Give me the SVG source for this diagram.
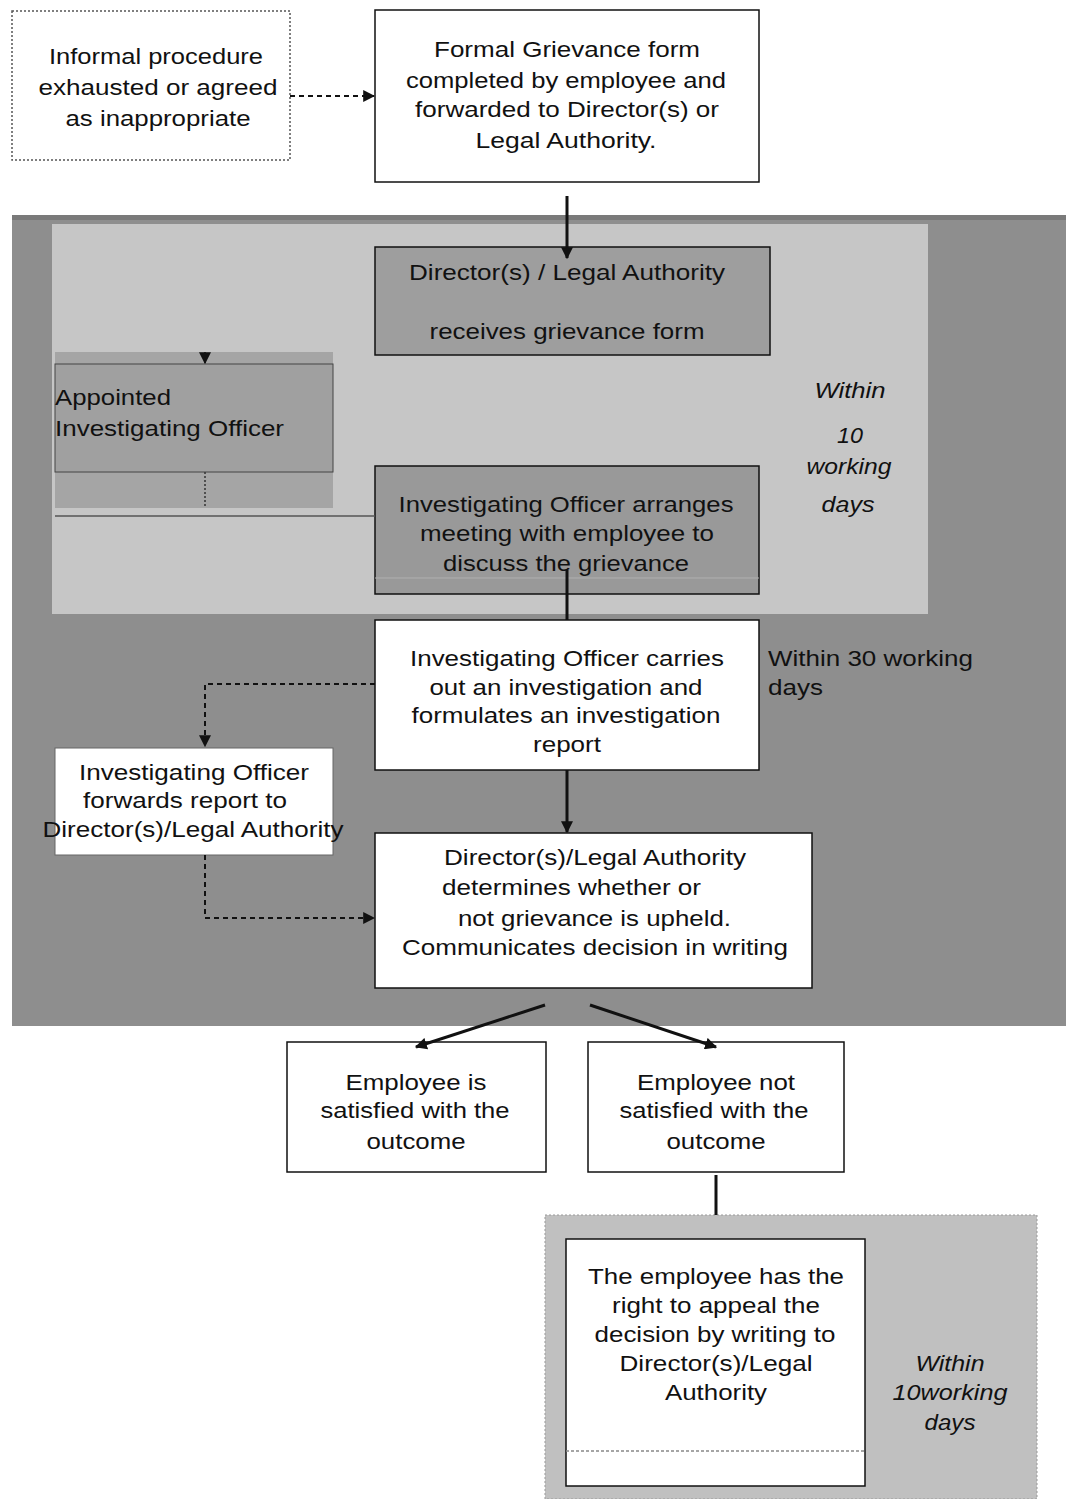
<svg xmlns="http://www.w3.org/2000/svg" width="1066" height="1499" viewBox="0 0 1066 1499">
<defs>
<style>
text{font-family:"Liberation Sans",Arial,sans-serif;font-size:22px;fill:#111}
.c{text-anchor:middle}
.it{font-style:italic}
.box{stroke:#111;stroke-width:1.5}
.ln{stroke:#111;fill:none}
</style>
<marker id="ah" viewBox="0 0 10 10" refX="9" refY="5" markerWidth="12" markerHeight="12" markerUnits="userSpaceOnUse" orient="auto"><path d="M0,0L10,5L0,10z" fill="#111"/></marker>
</defs>
<rect width="1066" height="1499" fill="#fff"/>
<g id="regions">
<rect x="12" y="215" width="1054" height="811" fill="#8e8e8e"/>
<rect x="12" y="215" width="1054" height="5" fill="#7a7a7a"/>
<rect x="52" y="224" width="876" height="390" fill="#c6c6c6"/>
<rect x="545" y="1215" width="492" height="284" fill="#c0c0c0" stroke="#999" stroke-dasharray="2,2"/>
</g>
<g id="informal">
<rect x="12" y="11" width="278" height="149" fill="#fff" stroke="#555" stroke-width="1.5" stroke-dasharray="2,2"/>
<text class="c" x="156" y="64" textLength="214" lengthAdjust="spacingAndGlyphs">Informal procedure</text>
<text class="c" x="158" y="95" textLength="239" lengthAdjust="spacingAndGlyphs">exhausted or agreed</text>
<text class="c" x="158" y="126" textLength="185" lengthAdjust="spacingAndGlyphs">as inappropriate</text>
</g>
<g id="formal">
<rect class="box" x="375" y="10" width="384" height="172" fill="#fff"/>
<text class="c" x="567" y="57" textLength="266" lengthAdjust="spacingAndGlyphs">Formal Grievance form</text>
<text class="c" x="566" y="88" textLength="320" lengthAdjust="spacingAndGlyphs">completed by employee and</text>
<text class="c" x="567" y="117" textLength="304" lengthAdjust="spacingAndGlyphs">forwarded to Director(s) or</text>
<text class="c" x="566" y="148" textLength="181" lengthAdjust="spacingAndGlyphs">Legal Authority.</text>
</g>
<g id="director-receives">
<rect class="box" x="375" y="247" width="395" height="108" fill="#9e9e9e"/>
<text class="c" x="567" y="280" textLength="316" lengthAdjust="spacingAndGlyphs">Director(s) / Legal Authority</text>
<text class="c" x="567" y="339" textLength="275" lengthAdjust="spacingAndGlyphs">receives grievance form</text>
</g>
<g id="appointed">
<rect x="55" y="352" width="278" height="156" fill="#a5a5a5"/>
<rect x="55" y="364" width="278" height="108" fill="#a0a0a0" stroke="#444" stroke-width="1"/>
<text x="55" y="405" textLength="116" lengthAdjust="spacingAndGlyphs">Appointed</text>
<text x="55" y="436" textLength="229" lengthAdjust="spacingAndGlyphs">Investigating Officer</text>
</g>
<g id="meeting">
<rect class="box" x="375" y="466" width="384" height="128" fill="#999"/>
<line x1="375" y1="578" x2="759" y2="578" stroke="#b0b0b0" stroke-width="1"/>
<text class="c" x="566" y="512" textLength="335" lengthAdjust="spacingAndGlyphs">Investigating Officer arranges</text>
<text class="c" x="567" y="541" textLength="294" lengthAdjust="spacingAndGlyphs">meeting with employee to</text>
<text class="c" x="566" y="571" textLength="246" lengthAdjust="spacingAndGlyphs">discuss the grievance</text>
</g>
<g id="within10">
<text class="c it" x="850" y="398" textLength="71" lengthAdjust="spacingAndGlyphs">Within</text>
<text class="c it" x="850" y="443" textLength="26" lengthAdjust="spacingAndGlyphs">10</text>
<text class="c it" x="849" y="474" textLength="85" lengthAdjust="spacingAndGlyphs">working</text>
<text class="c it" x="848" y="512" textLength="53" lengthAdjust="spacingAndGlyphs">days</text>
</g>
<g id="carries">
<rect class="box" x="375" y="620" width="384" height="150" fill="#fff"/>
<text class="c" x="567" y="666" textLength="314" lengthAdjust="spacingAndGlyphs">Investigating Officer carries</text>
<text class="c" x="566" y="695" textLength="273" lengthAdjust="spacingAndGlyphs">out an investigation and</text>
<text class="c" x="566" y="723" textLength="309" lengthAdjust="spacingAndGlyphs">formulates an investigation</text>
<text class="c" x="567" y="752" textLength="68" lengthAdjust="spacingAndGlyphs">report</text>
</g>
<g id="within30">
<text x="768" y="666" textLength="205" lengthAdjust="spacingAndGlyphs">Within 30 working</text>
<text x="768" y="695" textLength="55" lengthAdjust="spacingAndGlyphs">days</text>
</g>
<g id="forwards">
<rect x="55" y="748" width="278" height="107" fill="#fff" stroke="#666" stroke-width="1"/>
<text class="c" x="194" y="780" textLength="230" lengthAdjust="spacingAndGlyphs">Investigating Officer</text>
<text class="c" x="185" y="808" textLength="204" lengthAdjust="spacingAndGlyphs">forwards report to</text>
<text class="c" x="193" y="837" textLength="301" lengthAdjust="spacingAndGlyphs">Director(s)/Legal Authority</text>
</g>
<g id="determines">
<rect class="box" x="375" y="833" width="437" height="155" fill="#fff"/>
<text x="444" y="865" textLength="302" lengthAdjust="spacingAndGlyphs">Director(s)/Legal Authority</text>
<text x="442" y="895" textLength="259" lengthAdjust="spacingAndGlyphs">determines whether or</text>
<text x="458" y="926" textLength="273" lengthAdjust="spacingAndGlyphs">not grievance is upheld.</text>
<text x="402" y="955" textLength="386" lengthAdjust="spacingAndGlyphs">Communicates decision in writing</text>
</g>
<g id="satisfied">
<rect class="box" x="287" y="1042" width="259" height="130" fill="#fff"/>
<text class="c" x="416" y="1090" textLength="141" lengthAdjust="spacingAndGlyphs">Employee is</text>
<text class="c" x="415" y="1118" textLength="189" lengthAdjust="spacingAndGlyphs">satisfied with the</text>
<text class="c" x="416" y="1149" textLength="99" lengthAdjust="spacingAndGlyphs">outcome</text>
</g>
<g id="not-satisfied">
<rect class="box" x="588" y="1042" width="256" height="130" fill="#fff"/>
<text class="c" x="716" y="1090" textLength="158" lengthAdjust="spacingAndGlyphs">Employee not</text>
<text class="c" x="714" y="1118" textLength="189" lengthAdjust="spacingAndGlyphs">satisfied with the</text>
<text class="c" x="716" y="1149" textLength="99" lengthAdjust="spacingAndGlyphs">outcome</text>
</g>
<g id="appeal">
<rect class="box" x="566" y="1239" width="299" height="247" fill="#fff"/>
<line x1="566" y1="1451" x2="865" y2="1451" stroke="#888" stroke-width="1.5" stroke-dasharray="3,2"/>
<text class="c" x="716" y="1284" textLength="256" lengthAdjust="spacingAndGlyphs">The employee has the</text>
<text class="c" x="716" y="1313" textLength="208" lengthAdjust="spacingAndGlyphs">right to appeal the</text>
<text class="c" x="715" y="1342" textLength="241" lengthAdjust="spacingAndGlyphs">decision by writing to</text>
<text class="c" x="716" y="1371" textLength="193" lengthAdjust="spacingAndGlyphs">Director(s)/Legal</text>
<text class="c" x="716" y="1400" textLength="102" lengthAdjust="spacingAndGlyphs">Authority</text>
</g>
<g id="within10b">
<text class="c it" x="950" y="1371" textLength="69" lengthAdjust="spacingAndGlyphs">Within</text>
<text class="c it" x="950" y="1400" textLength="115" lengthAdjust="spacingAndGlyphs">10working</text>
<text class="c it" x="950" y="1430" textLength="51" lengthAdjust="spacingAndGlyphs">days</text>
</g>
<g id="connectors">
<line class="ln" x1="290" y1="96" x2="374" y2="96" stroke-width="2" stroke-dasharray="5,4" marker-end="url(#ah)"/>
<line class="ln" x1="567" y1="196" x2="567" y2="258" stroke-width="3" marker-end="url(#ah)"/>
<line class="ln" x1="205" y1="352" x2="205" y2="363" stroke-width="1.5" marker-end="url(#ah)"/>
<line x1="205" y1="472" x2="205" y2="508" stroke="#333" stroke-width="1.5" stroke-dasharray="2,2"/>
<line x1="55" y1="516" x2="375" y2="516" stroke="#555" stroke-width="1.5"/>
<line class="ln" x1="567" y1="570" x2="567" y2="620" stroke-width="3"/>
<polyline class="ln" points="375,684 205,684 205,746" stroke-width="2" stroke-dasharray="5,4" marker-end="url(#ah)"/>
<polyline class="ln" points="205,855 205,918 374,918" stroke-width="2" stroke-dasharray="5,4" marker-end="url(#ah)"/>
<line class="ln" x1="567" y1="770" x2="567" y2="832" stroke-width="3" marker-end="url(#ah)"/>
<line class="ln" x1="545" y1="1005" x2="416" y2="1047" stroke-width="3" marker-end="url(#ah)"/>
<line class="ln" x1="590" y1="1005" x2="716" y2="1047" stroke-width="3" marker-end="url(#ah)"/>
<line class="ln" x1="716" y1="1175" x2="716" y2="1215" stroke-width="3"/>
</g>
</svg>
